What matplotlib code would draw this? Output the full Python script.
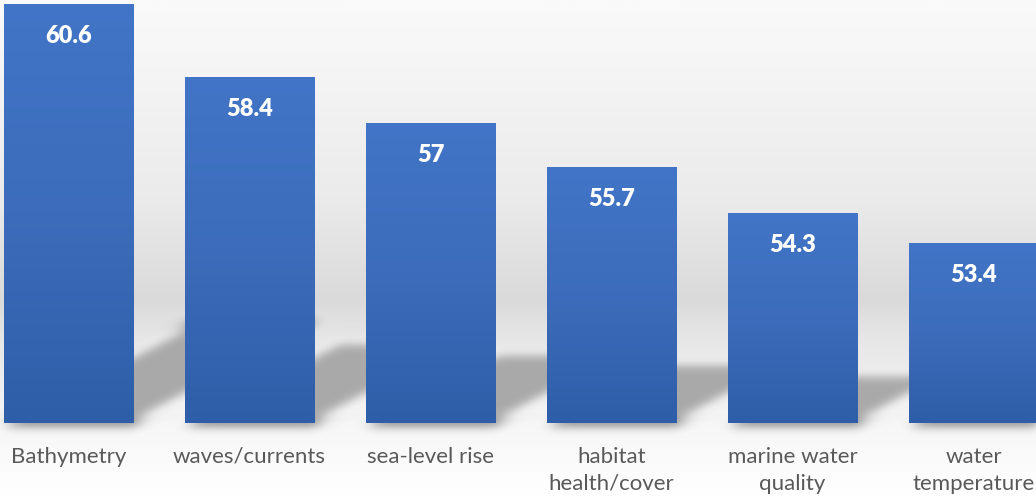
import numpy as np
import matplotlib
matplotlib.use("Agg")
import matplotlib.pyplot as plt
from matplotlib.patches import Polygon
from matplotlib.collections import PatchCollection
from matplotlib.colors import LinearSegmentedColormap

categories = ["Bathymetry", "waves/currents", "sea-level rise",
              "habitat\nhealth/cover", "marine water\nquality", "water\ntemperature"]
values = [60.6, 58.4, 57, 55.7, 54.3, 53.4]
value_labels = ["60.6", "58.4", "57", "55.7", "54.3", "53.4"]

Y_MIN, Y_MAX = 47.97, 60.72
BAR_W = 0.713


class GaussBlur:
    """agg filter: soft gaussian blur for the drop shadows"""
    def __init__(self, sigma):
        self.sigma = sigma

    def __call__(self, im, dpi):
        s = self.sigma * dpi / 72.0
        pad = int(3 * s) + 1
        ny, nx, d = im.shape
        src = np.zeros((ny + 2 * pad, nx + 2 * pad, d))
        src[pad:-pad, pad:-pad, :] = im
        k = np.exp(-0.5 * (np.arange(-pad, pad + 1) / s) ** 2)
        k /= k.sum()
        out = np.zeros_like(src)
        for i, w in enumerate(k):
            out += w * np.roll(src, i - pad, axis=0)
        src = out
        out = np.zeros_like(src)
        for i, w in enumerate(k):
            out += w * np.roll(src, i - pad, axis=1)
        return out, -pad, -pad


fig = plt.figure(figsize=(10.36, 4.97), dpi=100)

# background gradient (wall + floor)
bg = fig.add_axes([0, 0, 1, 1], zorder=-10)
stops = [(0.0, "#ffffff"), (74 / 497, "#f6f6f6"), (75 / 497, "#f5f5f5"),
         (160 / 497, "#e6e6e6"), (197 / 497, "#dadada"), (300 / 497, "#ebebeb"),
         (1.0, "#fafafa")]
cmap_bg = LinearSegmentedColormap.from_list("bg", stops)
grad = np.linspace(0, 1, 500).reshape(-1, 1)
bg.imshow(grad, aspect="auto", cmap=cmap_bg, origin="lower", extent=[0, 1, 0, 1])
bg.set_axis_off()

ax = fig.add_axes([0, 74 / 497, 1, 423 / 497])
ax.set_facecolor("none")
ax.set_xlim(-0.378, 5.345)
ax.set_ylim(Y_MIN, Y_MAX)

x = np.arange(len(values))

# perspective shadows behind the bars
px_x = 1036 / (5.345 + 0.378)
px_y = 423 / (Y_MAX - Y_MIN)
shadows = []
for xi, v in zip(x, values):
    dy = 0.235 * (v - Y_MIN)
    dx = 1.9 * dy * px_y / px_x
    shadows.append(Polygon([(xi - BAR_W / 2, Y_MIN), (xi + BAR_W / 2, Y_MIN),
                            (xi + BAR_W / 2 + dx, Y_MIN + dy),
                            (xi - BAR_W / 2 + dx, Y_MIN + dy)], closed=True))
pc = PatchCollection(shadows, facecolor="#a9a9a9", edgecolor="none", zorder=1)
pc.set_agg_filter(GaussBlur(4))
pc.set_rasterized(True)
ax.add_collection(pc)

bars = ax.bar(x, [v - Y_MIN for v in values], bottom=Y_MIN, width=BAR_W,
              color="#3a6bbb", zorder=2)

cmap_bar = LinearSegmentedColormap.from_list("bar", ["#2f5ea8", "#3c6cbb", "#4275c7"])
bar_grad = np.linspace(0, 1, 256).reshape(-1, 1)
for b in bars:
    im = ax.imshow(bar_grad, aspect="auto", cmap=cmap_bar, origin="lower",
                   extent=[b.get_x(), b.get_x() + b.get_width(), Y_MIN, b.get_y() + b.get_height()],
                   zorder=3)
    im.set_clip_path(b)

for xi, v, lab in zip(x, values, value_labels):
    ax.annotate(lab, (xi, v), xytext=(0, -32), textcoords="offset pixels",
                ha="center", va="center", color="white", fontsize=17,
                fontweight="heavy", family="Lato", zorder=4)

ax.set_xticks(x)
ax.set_xticklabels(categories, fontsize=16, color="#595959", family="Lato",
                   linespacing=1.45)
ax.tick_params(axis="x", length=0, pad=17)
ax.set_yticks([])
for s in ax.spines.values():
    s.set_visible(False)

fig.savefig("out.png", dpi=100)
